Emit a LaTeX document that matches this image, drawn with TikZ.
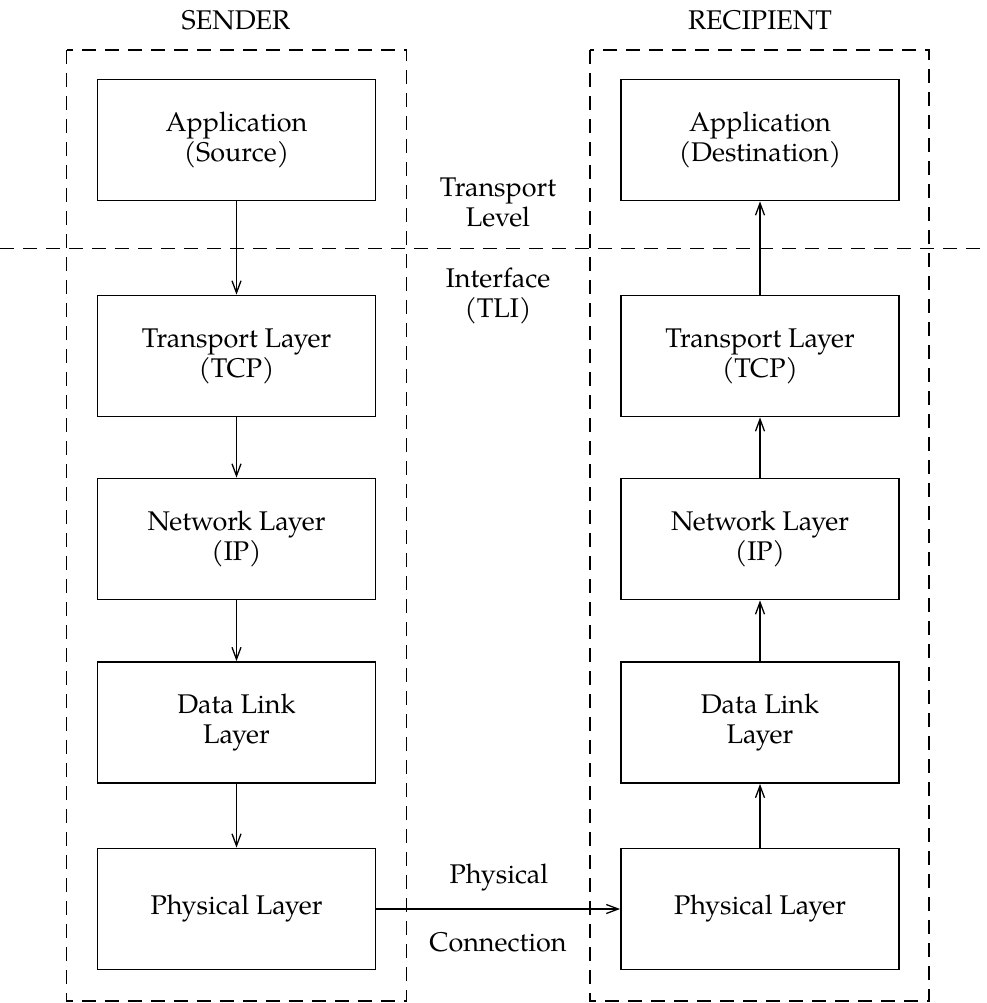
\documentclass[tikz,border=0pt]{standalone}
\usepackage{fontspec}
\setmainfont{texgyrepagella}[Extension=.otf,UprightFont=*-regular,BoldFont=*-bold,ItalicFont=*-italic,BoldItalicFont=*-bolditalic]
\usetikzlibrary{arrows.meta}
\tikzset{
  layerbox/.style={draw, line width=1.8pt, align=center, inner sep=0pt, font=\fontsize{27}{30}\selectfont},
  lbox/.style={layerbox, minimum width=278pt, minimum height=121pt},
  frame/.style={line width=1.6pt, dash pattern=on 14pt off 9pt},
  lbl/.style={align=center, inner sep=0pt, font=\fontsize{27}{30}\selectfont},
  flow/.style={line width=1.3pt, -{Straight Barb[length=12pt,width=9pt,line width=1.3pt]}},
}
\begin{document}
\begin{tikzpicture}[x=1pt,y=-1pt]
\useasboundingbox (0,0) rectangle (986,1003);
% frames
\draw[frame] (66.5,50) rectangle (406.5,1001);
\draw[frame] (590,50) rectangle (929,1001);
\draw[frame] (0,248.5) -- (986,248.5);
% titles
\node[lbl] (sender) at (236,20) {SENDER};
\node[lbl] (recipient) at (760,20) {RECIPIENT};
% left boxes
\node[lbox] (sapp) at (236.5,140) {Application\\(Source)};
\node[lbox] (stcp) at (236.5,356) {Transport Layer\\(TCP)};
\node[lbox] (sip) at (236.5,539) {Network Layer\\(IP)};
\node[lbox] (sdl) at (236.5,722.5) {Data Link\\Layer};
\node[lbox] (sph) at (236.5,909) {Physical Layer};
% right boxes
\node[lbox] (rapp) at (760,140) {Application\\(Destination)};
\node[lbox] (rtcp) at (760,356) {Transport Layer\\(TCP)};
\node[lbox] (rip) at (760,539) {Network Layer\\(IP)};
\node[lbox] (rdl) at (760,722.5) {Data Link\\Layer};
\node[lbox] (rph) at (760,909) {Physical Layer};
% middle labels
\node[lbl] (tl) at (498,202) {Transport\\Level};
\node[lbl] (tli) at (498,296) {Interface\\(TLI)};
\node[lbl] (phys) at (499,878) {Physical};
\node[lbl] (conn) at (498,942) {Connection};
% arrows
\draw[flow] (sapp) -- (stcp);
\draw[flow] (stcp) -- (sip);
\draw[flow] (sip) -- (sdl);
\draw[flow] (sdl) -- (sph);
\draw[flow] (sph) -- (rph);
\draw[flow] (rph) -- (rdl);
\draw[flow] (rdl) -- (rip);
\draw[flow] (rip) -- (rtcp);
\draw[flow] (rtcp) -- (rapp);
\end{tikzpicture}
\end{document}
